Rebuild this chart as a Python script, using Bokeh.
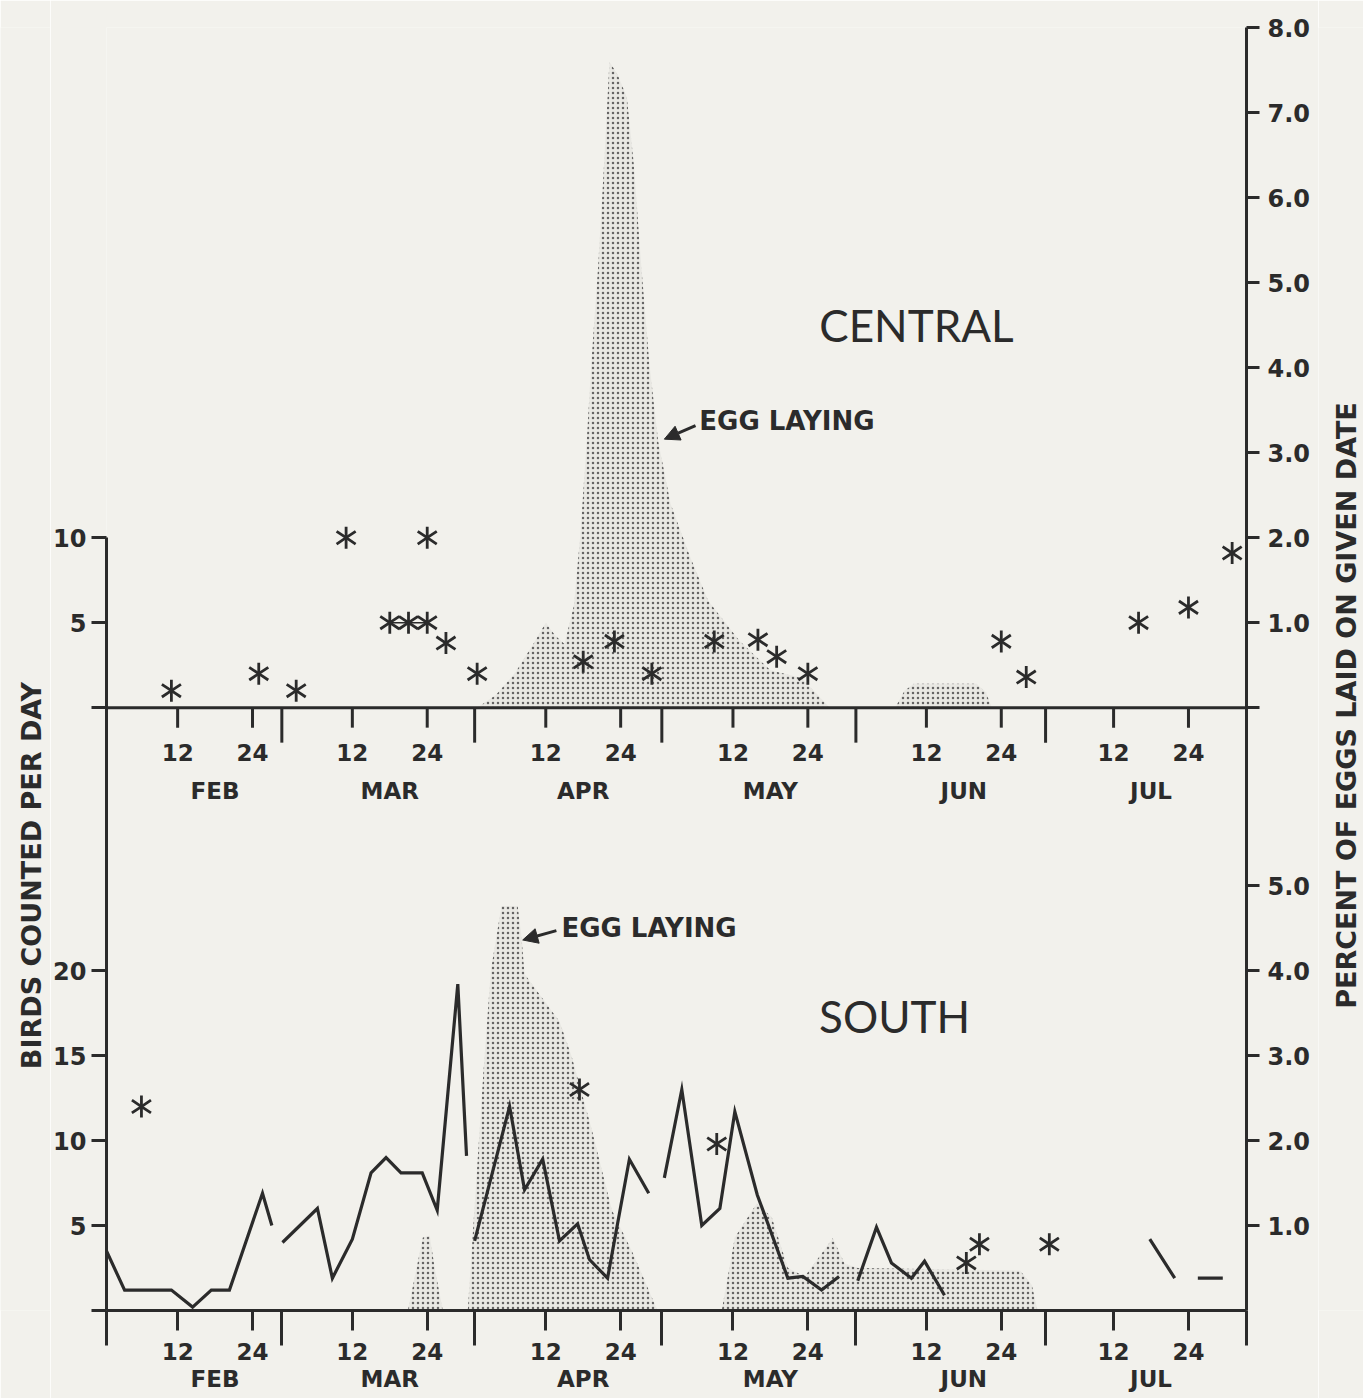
import math
from bokeh.plotting import figure
from bokeh.layouts import row
from bokeh.models import (Range1d, LinearAxis, FixedTicker, CustomJSTickFormatter,
                          Span, Label, Arrow, NormalHead)
from bokeh.core.properties import value
from bokeh.embed import file_html
from bokeh.resources import INLINE

INK = "#2b2b2b"
PAPER = "#f2f1ec"
FONT = "DejaVu Sans"
NAN = float("nan")

# ---- x axis: day of season (1 = 1 February) ----
TICK_DAYS = [12, 24, 40, 52, 71, 83, 101, 113, 132, 144, 162, 174]
TICK_LABELS = ["12", "24"] * 6
MONTH_DAYS = [18, 46, 77, 107, 138, 168]
MONTHS = ["FEB", "MAR", "APR", "MAY", "JUN", "JUL"]
MONTH_BOUNDS = [28.7, 59.6, 89.6, 120.7, 151.1]
X_START, X_END = 0.6, 183.3

# ---- CENTRAL panel ----
central_star_day = [11, 25, 31, 39, 46, 49, 52, 52, 55, 60, 77, 82, 88, 98, 105, 108, 113, 144, 148, 166, 174, 181]
central_star_count = [1, 2, 1, 10, 5, 5, 5, 10, 3.8, 2, 2.7, 3.9, 2, 3.9, 4, 3, 2, 3.9, 1.8, 5, 5.9, 9.1]
central_line_day = [46, 49, 52]
central_line_count = [5, 5, 5]

central_egg_day = [60, 63, 66, 69, 71, 72.5, 74, 75.5, 76.5, 77.5, 78.3, 79.4, 80.4, 81.2, 82.5, 84,
                   85.1, 86.3, 87.6, 89, 91, 94, 97, 102, 107, 112, 116.5]
central_egg_pct = [0, 0.15, 0.4, 0.75, 1.0, 0.85, 0.75, 1.2, 2.0, 3.06, 4.05, 5.2, 6.47, 7.6, 7.45, 7.18,
                   6.4, 5.2, 4.05, 3.14, 2.4, 1.8, 1.26, 0.79, 0.44, 0.35, 0]
central_egg2_day = [127, 128.5, 130, 140, 141.5, 142.5]
central_egg2_pct = [0, 0.2, 0.28, 0.28, 0.18, 0]

# ---- SOUTH panel ----
south_line_day = [0.6, 3.5, 11, 14.4, 17.4, 20.3, 25.6, 27.1, NAN,
                  28.8, 34.4, 36.8, 40.0, 43.0, 45.4, 47.8, 51.2, 53.6, 56.9, 58.3, NAN,
                  59.6, 65.2, 67.6, 70.5, 73.2, 76.1, 78.0, 80.9, 84.4, 87.5, NAN,
                  90.0, 92.8, 96.0, 98.9, 101.3, 104.9, 109.8, 112.2, 115.2, 118.0, NAN,
                  121.0, 124.0, 126.4, 129.6, 131.7, 134.9, NAN,
                  167.8, 171.8, NAN,
                  175.5, 179.5]
south_line_count = [3.5, 1.2, 1.2, 0.2, 1.2, 1.2, 6.9, 5.0, NAN,
                    4.0, 6.0, 1.9, 4.2, 8.1, 9.0, 8.1, 8.1, 5.9, 19.2, 9.1, NAN,
                    4.1, 12.0, 7.1, 8.9, 4.1, 5.1, 3.0, 1.9, 8.9, 6.9, NAN,
                    7.8, 13.0, 5.0, 6.0, 11.7, 6.8, 1.9, 2.0, 1.2, 2.0, NAN,
                    1.75, 4.9, 2.8, 1.9, 2.9, 0.9, NAN,
                    4.2, 1.9, NAN,
                    1.9, 1.9]
south_star_day = [6.2, 76.4, 98.4, 138.4, 140.5, 151.7]
south_star_count = [12, 13, 9.8, 2.8, 3.9, 3.9]

south_egg1_day = [48.9, 50.3, 51.3, 52.4, 53.2, 54.5]
south_egg1_pct = [0, 0.5, 0.86, 0.88, 0.5, 0]
south_egg2_day = [58.5, 61.0, 62.2, 63.9, 66.5, 67.1, 67.6, 73.2, 75.1, 78.3, 81.6, 84.8, 88.9]
south_egg2_pct = [0, 2.8, 4.0, 4.76, 4.76, 4.4, 3.96, 3.4, 3.0, 2.15, 1.18, 0.7, 0]
south_egg3_day = [99.2, 101.3, 104.8, 107.2, 109.8, 112.5, 117.0, 118.9, 121.0, 147.0, 148.9, 149.8]
south_egg3_pct = [0, 0.86, 1.26, 1.1, 0.5, 0.4, 0.85, 0.55, 0.5, 0.47, 0.3, 0]

LEFT_TICKS_SOUTH = [0, 5, 10, 15, 20]
LEFT_TICKS_CENTRAL = [0, 5, 10]
RIGHT_TICKS_SOUTH = [1, 2, 3, 4, 5]
RIGHT_TICKS_CENTRAL = [0, 1, 2, 3, 4, 5, 6, 7, 8]

# ---- geometry of the shared frame (birds units of the SOUTH panel) ----
BIRDS_PER_PCT = 5.0
FRAME_W, FRAME_H = 1140, 1283
K = 17.0                              # px per bird
TOP_OFF = 603 / K                     # CENTRAL zero line, in SOUTH birds units
Y_END = TOP_OFF + 40.02
H = 1398
LEFT_W, RIGHT_W = 50, 45
MB_L, MB_R, MB_T, MB_B = 55, 72, 27, 88

p = figure(frame_width=FRAME_W, frame_height=FRAME_H,
           x_range=Range1d(X_START, X_END), y_range=Range1d(0, Y_END),
           y_axis_location=None,
           output_backend="svg", toolbar_location=None,
           min_border_left=MB_L, min_border_right=MB_R, min_border_top=MB_T, min_border_bottom=MB_B,
           background_fill_color=PAPER, border_fill_color=PAPER, outline_line_color=None)
p.xgrid.visible = False
p.ygrid.visible = False

p.extra_y_ranges = {
    "bot_pct": Range1d(0, Y_END / BIRDS_PER_PCT),
    "top_birds": Range1d(-TOP_OFF, Y_END - TOP_OFF),
    "top_pct": Range1d(-TOP_OFF / BIRDS_PER_PCT, (Y_END - TOP_OFF) / BIRDS_PER_PCT),
}

def style_axis(ax, size="23px"):
    ax.axis_line_color = INK
    ax.axis_line_width = 3
    ax.major_tick_line_color = INK
    ax.major_tick_line_width = 3
    ax.minor_tick_line_color = INK
    ax.minor_tick_line_width = 3
    ax.major_label_text_color = INK
    ax.major_label_text_font = FONT
    ax.major_label_text_font_style = "bold"
    ax.major_label_text_font_size = size

# left axis (one line shared by both panels)
left_ticks = LEFT_TICKS_SOUTH + [TOP_OFF + v for v in LEFT_TICKS_CENTRAL]
la = LinearAxis(ticker=FixedTicker(ticks=left_ticks, minor_ticks=[]),
                formatter=CustomJSTickFormatter(args=dict(off=TOP_OFF), code="""
                    const v = tick > off - 1 ? tick - off : tick;
                    return Math.abs(v) < 1e-6 ? "" : v.toFixed(0);"""),
                bounds=(0, TOP_OFF + 10))
style_axis(la, "24px")
la.major_tick_out = 15
la.major_tick_in = 0
la.major_label_standoff = 5
p.add_layout(la, "left")

# right axis (one line shared by both panels)
off_p = TOP_OFF / BIRDS_PER_PCT
right_ticks = RIGHT_TICKS_SOUTH + [off_p + v for v in RIGHT_TICKS_CENTRAL]
ra = LinearAxis(y_range_name="bot_pct",
                ticker=FixedTicker(ticks=right_ticks, minor_ticks=[]),
                formatter=CustomJSTickFormatter(args=dict(off=off_p), code="""
                    const v = tick > off - 0.5 ? tick - off : tick;
                    return Math.abs(v) < 1e-6 ? "" : v.toFixed(1);"""),
                bounds=(0, Y_END / BIRDS_PER_PCT))
style_axis(ra, "24px")
ra.major_tick_out = 13
ra.major_tick_in = 0
ra.major_label_standoff = 8
p.add_layout(ra, "right")

# bottom axis (SOUTH)
xa = p.xaxis[0]
xa.ticker = FixedTicker(ticks=TICK_DAYS, minor_ticks=[X_START] + MONTH_BOUNDS + [X_END])
xa.major_label_overrides = dict(zip(TICK_DAYS, TICK_LABELS))
style_axis(xa)
xa.major_tick_out = 20
xa.major_tick_in = 0
xa.minor_tick_out = 35
xa.minor_tick_in = 0
xa.major_label_standoff = -3

ma = LinearAxis(ticker=FixedTicker(ticks=MONTH_DAYS, minor_ticks=[]),
                major_label_overrides=dict(zip(MONTH_DAYS, MONTHS)))
style_axis(ma)
ma.axis_line_color = None
ma.major_tick_line_color = None
ma.minor_tick_line_color = None
ma.major_tick_out = 0
ma.major_tick_in = 0
ma.major_label_standoff = 3
p.add_layout(ma, "below")

# CENTRAL panel x axis, drawn in the middle of the frame
p.add_layout(Span(location=0, dimension="width", y_range_name="top_birds",
                  line_color=INK, line_width=3))
n = len(TICK_DAYS)
p.segment(x0=TICK_DAYS, y0=[0] * n, x1=TICK_DAYS, y1=[-20 / K] * n,
          y_range_name="top_birds", line_color=INK, line_width=3)
m = len(MONTH_BOUNDS)
p.segment(x0=MONTH_BOUNDS, y0=[0] * m, x1=MONTH_BOUNDS, y1=[-35 / K] * m,
          y_range_name="top_birds", line_color=INK, line_width=3)
p.text(x=TICK_DAYS, y=[-45 / K] * n, text=TICK_LABELS, y_range_name="top_birds",
       text_align="center", text_baseline="middle", text_color=INK,
       text_font=value(FONT), text_font_style="bold", text_font_size="23px")
p.text(x=MONTH_DAYS, y=[-83 / K] * len(MONTH_DAYS), text=MONTHS, y_range_name="top_birds",
       text_align="center", text_baseline="middle", text_color=INK,
       text_font=value(FONT), text_font_style="bold", text_font_size="23px")

# egg-laying (stippled areas)
area_style = dict(fill_color="#e9e8e3", hatch_pattern="dot", hatch_color="#4d4d4d",
                  hatch_scale=5, hatch_weight=1.3, hatch_alpha=0.85)
p.varea(x=central_egg_day, y1=0, y2=central_egg_pct, y_range_name="top_pct", **area_style)
p.varea(x=central_egg2_day, y1=0, y2=central_egg2_pct, y_range_name="top_pct", **area_style)
p.varea(x=south_egg1_day, y1=0, y2=south_egg1_pct, y_range_name="bot_pct", **area_style)
p.varea(x=south_egg2_day, y1=0, y2=south_egg2_pct, y_range_name="bot_pct", **area_style)
p.varea(x=south_egg3_day, y1=0, y2=south_egg3_pct, y_range_name="bot_pct", **area_style)

# birds counted
p.line(south_line_day, south_line_count, line_color=INK, line_width=3.2, line_join="miter")
p.line(central_line_day, central_line_count, y_range_name="top_birds",
       line_color=INK, line_width=1.5)
# six-spoke asterisks made of two "y" markers
for ang in (0, math.pi):
    p.scatter(central_star_day, central_star_count, y_range_name="top_birds", marker="y",
              angle=ang, size=22, line_color=INK, line_width=2.8)
    p.scatter(south_star_day, south_star_count, marker="y",
              angle=ang, size=22, line_color=INK, line_width=2.8)

# texts inside the frame
p.add_layout(Label(x=130.4, y=4.5, y_range_name="top_pct", text="CENTRAL",
                   text_align="center", text_baseline="middle", text_color=INK,
                   text_font="Lato", text_font_size="44px"))
p.add_layout(Label(x=126.9, y=3.46, y_range_name="bot_pct", text="SOUTH",
                   text_align="center", text_baseline="middle", text_color=INK,
                   text_font="Lato", text_font_size="44px"))
p.add_layout(Label(x=95.6, y=3.37, y_range_name="top_pct", text="EGG LAYING",
                   text_align="left", text_baseline="middle", text_color=INK,
                   text_font=FONT, text_font_style="bold", text_font_size="26px"))
p.add_layout(Label(x=73.5, y=4.5, y_range_name="bot_pct", text="EGG LAYING",
                   text_align="left", text_baseline="middle", text_color=INK,
                   text_font=FONT, text_font_style="bold", text_font_size="26px"))
p.add_layout(Arrow(end=NormalHead(size=15, fill_color=INK, line_color=INK, line_width=1),
                   x_start=95.0, y_start=3.32, x_end=90.0, y_end=3.16, y_range_name="top_pct",
                   line_color=INK, line_width=3))
p.add_layout(Arrow(end=NormalHead(size=15, fill_color=INK, line_color=INK, line_width=1),
                   x_start=72.7, y_start=4.47, x_end=67.3, y_end=4.36, y_range_name="bot_pct",
                   line_color=INK, line_width=3))

# axis titles in narrow side strips (read bottom to top, as in the original).
# The strips share the main frame's vertical extent; y is in px above the frame bottom.
def side_strip(width, text, x_px, y_center_px):
    f = figure(width=width, frame_height=FRAME_H, x_range=Range1d(0, width),
               y_range=Range1d(0, FRAME_H),
               x_axis_location=None, y_axis_location=None,
               min_border_left=0, min_border_right=0, min_border_top=MB_T, min_border_bottom=MB_B,
               output_backend="svg", toolbar_location=None,
               background_fill_color=PAPER, border_fill_color=PAPER, outline_line_color=None)
    f.xgrid.visible = False
    f.ygrid.visible = False
    f.add_layout(Label(x=x_px, y=(MB_T + FRAME_H) - y_center_px, text=text, angle=math.pi / 2,
                       text_align="center", text_baseline="middle", text_color=INK,
                       text_font=FONT, text_font_style="bold", text_font_size="27px"))
    return f

left_strip = side_strip(LEFT_W, "BIRDS COUNTED PER DAY", 31, 875)
right_strip = side_strip(RIGHT_W, "PERCENT OF EGGS LAID ON GIVEN DATE", 28, 705)

layout = row(left_strip, p, right_strip, spacing=0)
open("out.html", "w").write(file_html(layout, INLINE))
